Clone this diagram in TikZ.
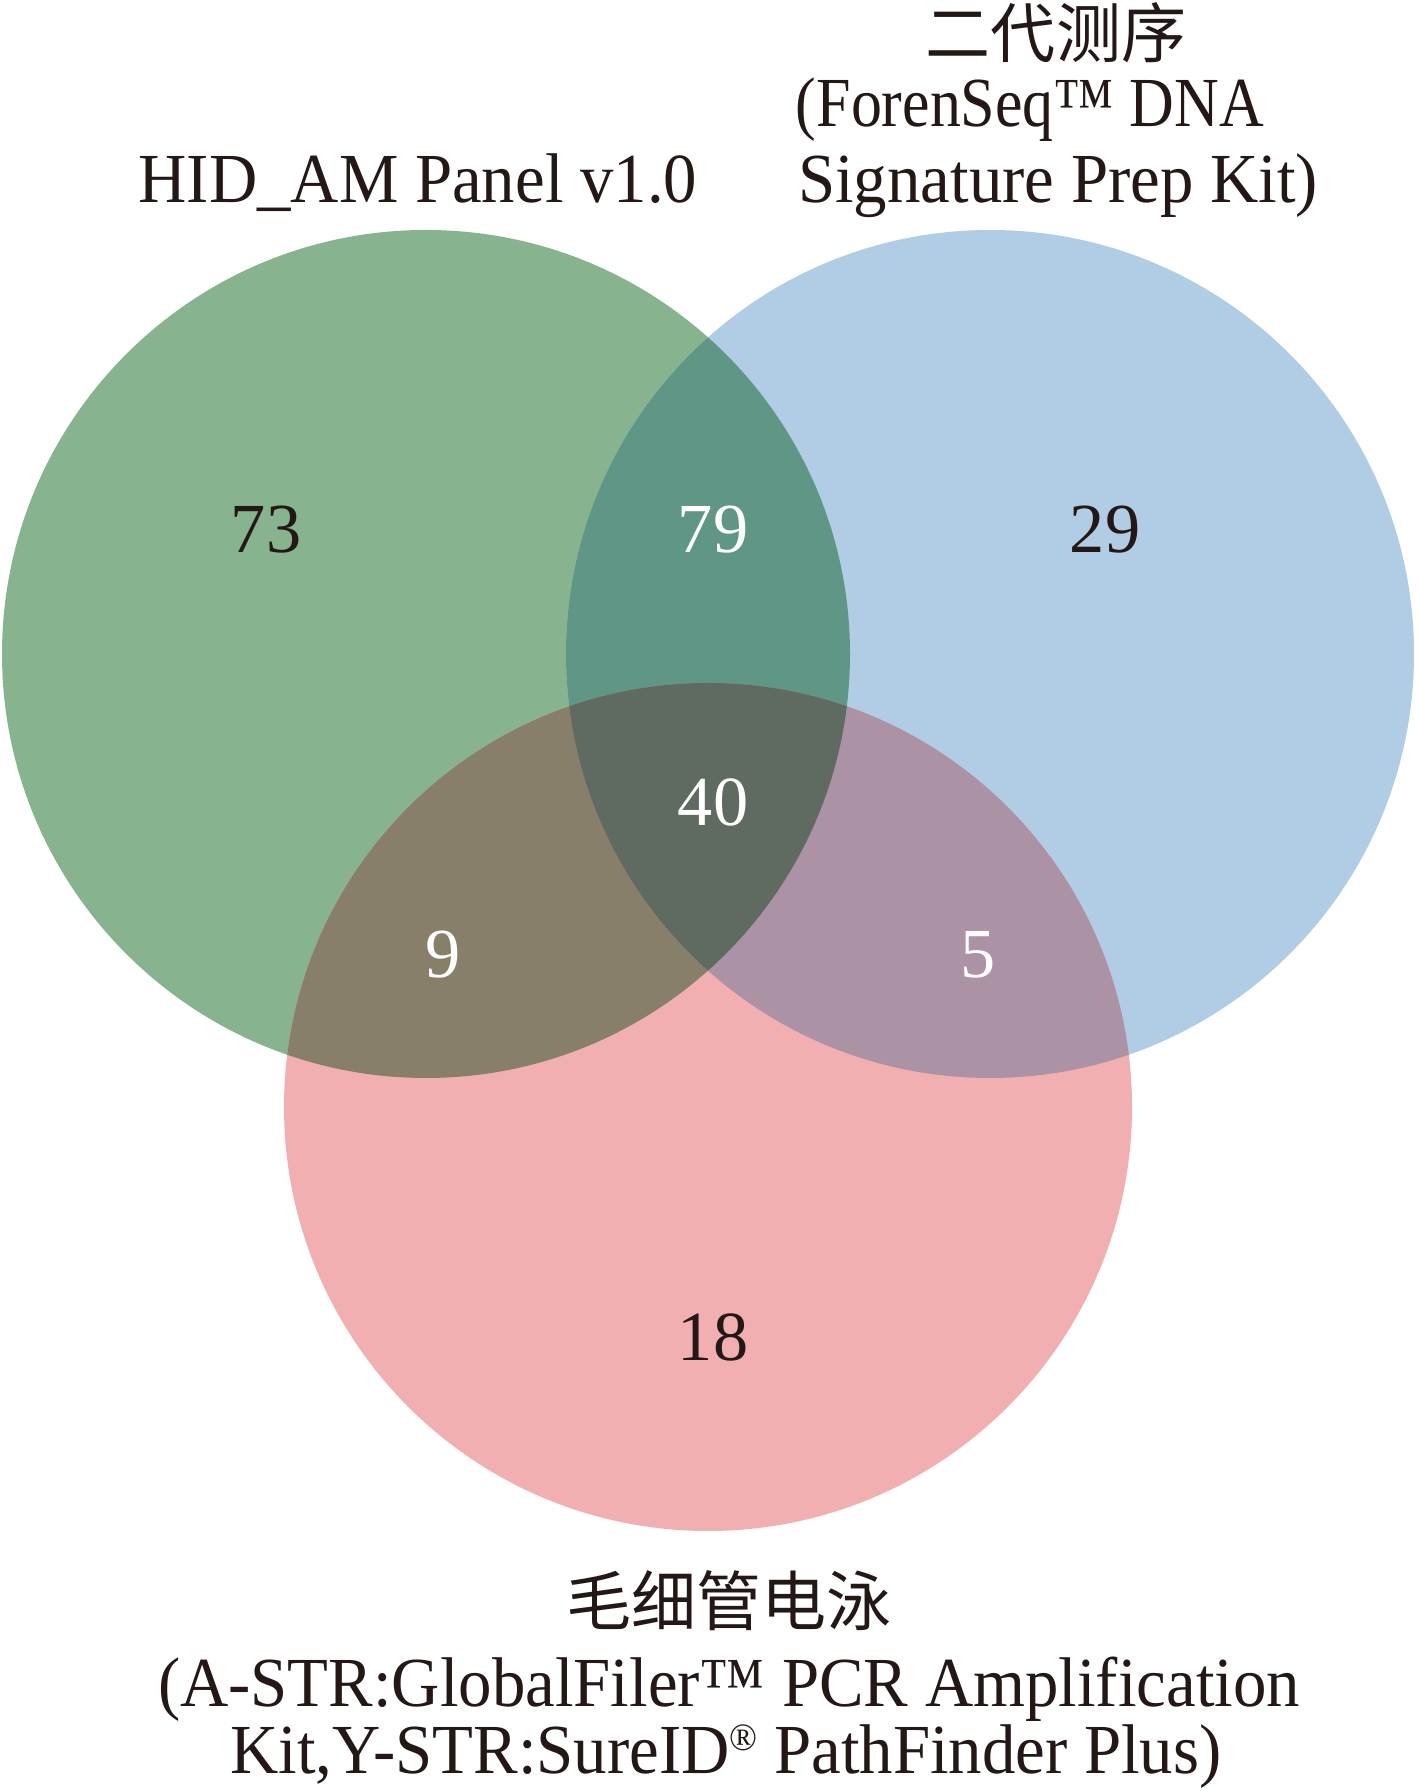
\documentclass[tikz,border=0pt]{standalone}
\usepackage{fontspec}
\setmainfont{Liberation Serif}
\newfontfamily\labelfont{Liberation Serif}[FakeStretch=0.95]
\newfontfamily\narrowfont{Liberation Serif}[FakeStretch=0.88]
\newfontfamily\cjkfont{Noto Sans CJK SC}

\definecolor{inkdark}{HTML}{231815}
\definecolor{hidgreen}{HTML}{88B38F}
\definecolor{ngsblue}{HTML}{B1CDE5}
\definecolor{cepink}{HTML}{F1AFB1}
\definecolor{hidngs}{HTML}{5F9685}
\definecolor{hidce}{HTML}{877F69}
\definecolor{ngsce}{HTML}{AC92A5}
\definecolor{allthree}{HTML}{5F6A60}

\newcommand{\regmark}{\raisebox{0.32em}{\fontsize{11}{11}\selectfont ®}}

\tikzset{
  num/.style={font=\fontsize{20}{24}\selectfont, text=inkdark},
  numw/.style={num, text=white},
  setlab/.style={font=\labelfont\fontsize{20}{24}\selectfont, text=inkdark, anchor=base, inner sep=0pt},
  narrowlab/.style={setlab, font=\narrowfont\fontsize{20}{24}\selectfont},
  cjklab/.style={font=\cjkfont\fontsize{18.5}{22}\selectfont, text=inkdark, anchor=base, inner sep=0pt}
}

\begin{document}
\begin{tikzpicture}[x=0.01cm,y=0.01cm]
        \useasboundingbox (0,0) rectangle (1418,1791);

        \coordinate (hid) at (426,1137);
        \coordinate (ngs) at (990,1137);
        \coordinate (ce) at (708,684);
        \def\rad{424}

        % single sets
        \fill[hidgreen] (hid) circle (\rad);
        \fill[ngsblue] (ngs) circle (\rad);
        \fill[cepink] (ce) circle (\rad);

        % overlaps
        \begin{scope}
            \clip (hid) circle (\rad);
            \fill[hidngs] (ngs) circle (\rad);
            \fill[hidce] (ce) circle (\rad);
        \end{scope}
        \begin{scope}
            \clip (ngs) circle (\rad);
            \fill[ngsce] (ce) circle (\rad);
        \end{scope}
        \begin{scope}
            \clip (hid) circle (\rad);
            \clip (ngs) circle (\rad);
            \fill[allthree] (ce) circle (\rad);
        \end{scope}

        \node[num] (n73) at (266,1261) {73};
        \node[numw] (n79) at (713,1261) {79};
        \node[num] (n29) at (1105,1261) {29};
        \node[numw] (n40) at (713,989) {40};
        \node[numw] (n9) at (443,836) {9};
        \node[numw] (n5) at (978,836) {5};
        \node[num] (n18) at (713,454) {18};

        \node[setlab] (hidlab) at (418,1588) {HID\_AM Panel v1.0};
        \node[cjklab] (ngscn) at (1056,1733) {二代测序};
        \node[narrowlab] (ngsen1) at (1030,1664) {(ForenSeq™ DNA};
        \node[setlab] (ngsen2) at (1058,1588) {Signature Prep Kit)};
        \node[cjklab] (cecn) at (729,165) {毛细管电泳};
        \node[setlab] (ceen1) at (729,84) {(A-STR:GlobalFiler™ PCR Amplification};
        \node[setlab] (ceen2) at (726,18) {Kit,Y-STR:SureID\regmark{} PathFinder Plus)};

    \end{tikzpicture}
\end{document}
